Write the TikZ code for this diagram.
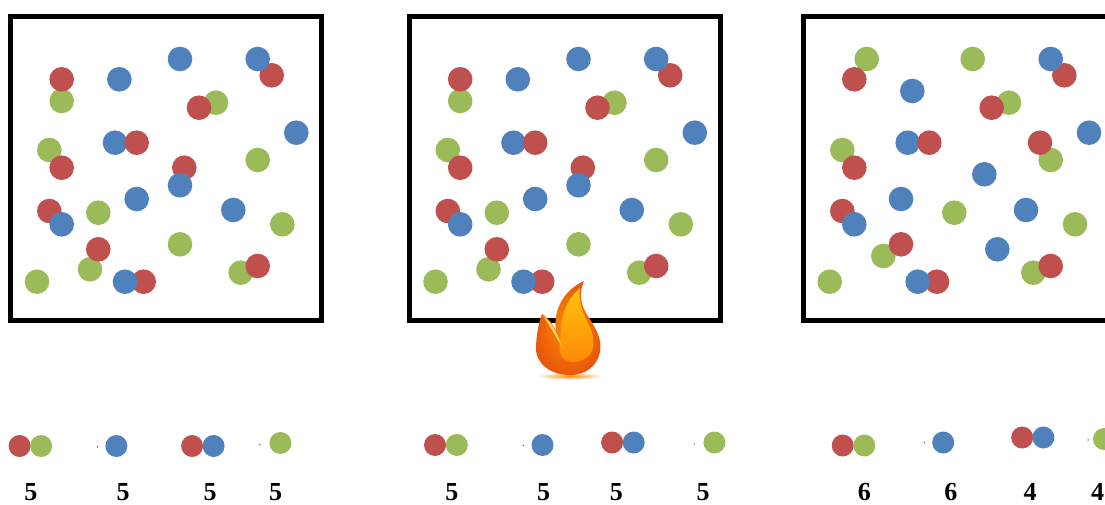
\documentclass[tikz,border=0pt]{standalone}
\usepackage{fontspec}
\setmainfont{Liberation Serif}
\definecolor{cred}{HTML}{C0504D}
\definecolor{cgreen}{HTML}{9BBB59}
\definecolor{cblue}{HTML}{4F81BD}
\definecolor{flameA}{HTML}{E8580A}
\definecolor{flameB}{HTML}{FF8C0A}
\definecolor{flameY}{HTML}{FFC20A}
\definecolor{flameO}{HTML}{FF8A08}
\definecolor{flameL}{HTML}{FFD25A}
\definecolor{glow}{HTML}{FF8A00}

% one box worth of particles, listed bottom layer first
\newcommand\mixdots{%
  \foreach \c/\x/\y in {
    cgreen/61.7/101, cred/61.7/79.3,
    cblue/119.3/79.3,
    cblue/180/59,
    cred/271.7/75.3, cblue/257.7/59,
    cgreen/216/102.7, cred/199/107.7,
    cblue/296.3/132.7,
    cblue/115/142.7, cred/136.7/142.7,
    cgreen/49.3/150, cred/61.7/167.7,
    cred/184.3/167.7, cblue/180/185.3,
    cgreen/257.7/160,
    cblue/136.7/199,
    cgreen/98.3/212.7,
    cred/49.3/211, cblue/61.7/224.3,
    cblue/233.3/210,
    cgreen/282.3/224.3,
    cgreen/180/244.3,
    cgreen/90/269.3, cred/98.3/249.3,
    cgreen/37/281.7,
    cred/143.7/281.7, cblue/125/281.7,
    cgreen/240.7/272.7, cred/257.7/266}
  {\fill[\c] (\x,\y) circle[radius=12.3pt];}%
}

\begin{document}
\begin{tikzpicture}[x=1pt,y=-1pt,
  frame/.style={draw=black,line width=5pt},
  lbl/.style={font=\bfseries\fontsize{26}{26}\selectfont,inner sep=0pt},
  speck/.style={fill=cblue!60!black}]
\useasboundingbox (0,0) rectangle (1105,505);

% containers
\draw[frame] (10.5,17) rectangle (321.5,320);
\draw[frame] (409,17) rectangle (720,320);

% particles in the first two containers
\mixdots
\begin{scope}[xshift=398.5pt]
  \mixdots
\end{scope}

% third container, running past the right edge
\begin{scope}
\clip (790,0) rectangle (1105,505);
\draw[frame] (803,17) rectangle (1114,320);
\foreach \c/\x/\y in {
    cgreen/866.7/59, cred/854.3/79.3,
    cblue/912.3/91,
    cgreen/972.7/59,
    cred/1064.3/75.3, cblue/1050.7/59,
    cgreen/1009/102.7, cred/991.7/107.7,
    cblue/1089/132.7,
    cblue/907.7/142.7, cred/929.3/142.7,
    cgreen/1050.7/160, cred/1040/142.7,
    cgreen/842.3/150, cred/854.3/167.7,
    cblue/984.3/174.3,
    cblue/901/199,
    cgreen/954.3/212.7,
    cred/842.3/211, cblue/854.3/224.3,
    cblue/1026/210,
    cgreen/1075/224.3,
    cgreen/883.3/256, cred/901/244.3,
    cblue/997.3/249.3,
    cgreen/829.7/281.7,
    cred/937/281.7, cblue/917.7/281.7,
    cgreen/1033.3/272.7, cred/1050.7/266}
  {\fill[\c] (\x,\y) circle[radius=12.3pt];}
\fill[cgreen] (1104,439) circle[radius=11pt];
\end{scope}

% flame under the middle container
\shade[inner color=glow, outer color=white] (570,376) ellipse [x radius=33pt, y radius=3.5pt];
\shade[inner color=flameB, outer color=flameA]
  (570,375) .. controls (550,375) and (535,363) .. (536,347)
  .. controls (536.5,333) and (539,322) .. (542,314)
  .. controls (548,318) and (553,324) .. (556,331)
  .. controls (553,312) and (562,291) .. (584,281)
  .. controls (578,295) and (581,306) .. (589,318)
  .. controls (597,330) and (602,340) .. (600,352)
  .. controls (597,366) and (586,375) .. (570,375) -- cycle;
% bright core of the main tongue
\shade[top color=flameY, bottom color=flameO]
  (572,362) .. controls (563,361) and (558,354) .. (560,345)
  .. controls (561,328) and (560,305) .. (580,288)
  .. controls (578,300) and (582,311) .. (587,321)
  .. controls (593,332) and (595,342) .. (592,351)
  .. controls (589,358) and (581,362) .. (572,362) -- cycle;
% light seam beside the small left tongue
\fill[flameL] (543,316) .. controls (552,322) and (558,334) .. (562,347)
  .. controls (556,337) and (550,326) .. (543,316) -- cycle;

% particle types with their counts
\foreach \c/\x/\y in {
    cred/19.6/446, cgreen/41.1/446,
    cblue/116.4/446,
    cred/192.1/446, cblue/213.6/446,
    cgreen/280.4/443,
    cred/435/445, cgreen/456.8/445,
    cblue/542.5/445,
    cred/612.1/442.5, cblue/633.7/442.5,
    cgreen/714.4/442.5,
    cred/842.7/445.5, cgreen/864.3/445.5,
    cblue/943.2/442.5,
    cred/1022.2/437.5, cblue/1043.4/437.5}
  {\fill[\c] (\x,\y) circle[radius=11pt];}
\foreach \x/\y in {97.5/446.8, 259.6/444.6, 523.2/445.4, 694.2/444, 924.5/442.8, 1088.1/440}
  {\fill[speck] (\x,\y) circle[radius=0.7pt];}

\node[lbl] (c1) at (30.8,492) {5};
\node[lbl] (c2) at (123.2,492) {5};
\node[lbl] (c3) at (210,492) {5};
\node[lbl] (c4) at (275.7,492) {5};
\node[lbl] (c5) at (451.8,492) {5};
\node[lbl] (c6) at (543.6,492) {5};
\node[lbl] (c7) at (616.4,492) {5};
\node[lbl] (c8) at (703.2,492) {5};
\node[lbl] (c9) at (864.3,492) {6};
\node[lbl] (c10) at (950.8,492) {6};
\node[lbl] (c11) at (1030,492) {4};
\node[lbl] (c12) at (1097.5,492) {4};
\end{tikzpicture}
\end{document}
